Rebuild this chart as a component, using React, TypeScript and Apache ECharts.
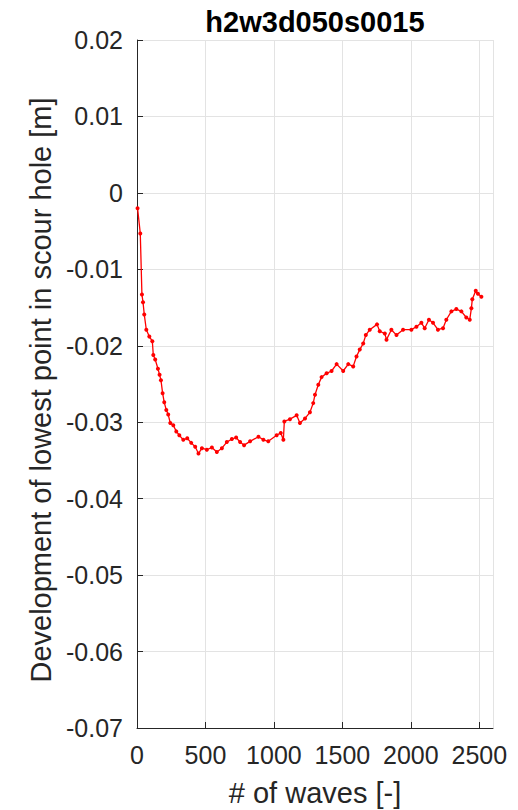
import React, { useEffect, useRef } from "react";
import * as echarts from "echarts";

const waves = [4, 24, 36, 44, 53, 68, 90, 112, 119, 133, 153, 165, 175, 187, 199, 214, 228, 243, 265, 287, 309, 338, 367, 396, 425, 449, 474, 510, 547, 583, 620, 656, 693, 724, 753, 782, 826, 887, 923, 959, 1020, 1050, 1069, 1076, 1117, 1166, 1190, 1227, 1263, 1287, 1300, 1324, 1348, 1385, 1421, 1458, 1506, 1543, 1579, 1603, 1627, 1652, 1671, 1700, 1753, 1773, 1810, 1822, 1858, 1895, 1943, 2004, 2041, 2077, 2101, 2132, 2162, 2198, 2235, 2259, 2296, 2332, 2369, 2405, 2430, 2442, 2449, 2474, 2490, 2515];
const depth = [-0.002, -0.0053, -0.0133, -0.0143, -0.0159, -0.0179, -0.0188, -0.0194, -0.0212, -0.0218, -0.023, -0.0238, -0.0245, -0.0262, -0.0274, -0.0284, -0.029, -0.0301, -0.0304, -0.0312, -0.0317, -0.0323, -0.0321, -0.0327, -0.0332, -0.0341, -0.0334, -0.0336, -0.0333, -0.0339, -0.0334, -0.0326, -0.0322, -0.032, -0.0326, -0.033, -0.0325, -0.0319, -0.0323, -0.0325, -0.0317, -0.0314, -0.0323, -0.0299, -0.0296, -0.0291, -0.0301, -0.0295, -0.0287, -0.0275, -0.0264, -0.0251, -0.0241, -0.0236, -0.0233, -0.0224, -0.0233, -0.0224, -0.0227, -0.0214, -0.0205, -0.0197, -0.0186, -0.0179, -0.0172, -0.0181, -0.0184, -0.0192, -0.0179, -0.0186, -0.0179, -0.0179, -0.0175, -0.017, -0.0177, -0.0166, -0.017, -0.0179, -0.0177, -0.0166, -0.0155, -0.0152, -0.0155, -0.0163, -0.0166, -0.0151, -0.0139, -0.0128, -0.0132, -0.0136];

const titleText = "h2w3d050s0015";
const xLabel = "# of waves [-]";
const yLabel = "Development of lowest point in scour hole [m]";

const FONT = "'Liberation Sans', Arial, Helvetica, sans-serif";

export default function App() {
  const ref = useRef<HTMLDivElement>(null);
  useEffect(() => {
    document.body.style.margin = "0";
    const chart = echarts.init(ref.current!, null, { renderer: "svg" });
    const axisColor = "#262626";
    chart.setOption({
      animation: false,
      backgroundColor: "#ffffff",
      grid: { left: 137, right: 25, top: 40, bottom: 82, containLabel: false },
      xAxis: {
        type: "value",
        min: 0,
        max: 2600,
        interval: 500,
        axisLine: { show: true, onZero: false, lineStyle: { color: axisColor, width: 1 } },
        axisTick: { show: true, inside: true, length: 6, lineStyle: { color: axisColor } },
        axisLabel: {
          color: "#262626",
          fontSize: 25,
          fontFamily: FONT,
          margin: 14,
          formatter: (v: number) => String(v),
        },
        splitLine: { show: true, lineStyle: { color: "#e3e3e3", width: 1 } },
      },
      yAxis: {
        type: "value",
        min: -0.07,
        max: 0.02,
        interval: 0.01,
        axisLine: { show: true, onZero: false, lineStyle: { color: axisColor, width: 1 } },
        axisTick: { show: true, inside: true, length: 6, lineStyle: { color: axisColor } },
        axisLabel: {
          color: "#262626",
          fontSize: 25,
          fontFamily: FONT,
          margin: 14,
          formatter: (v: number) => String(Math.round(v * 100) / 100),
        },
        splitLine: { show: true, lineStyle: { color: "#e3e3e3", width: 1 } },
      },
      graphic: [
        {
          type: "text",
          x: 315,
          y: 22,
          style: {
            text: titleText,
            font: `bold 29px ${FONT}`,
            fill: "#000000",
            align: "center",
            verticalAlign: "middle",
          },
        },
        {
          type: "text",
          x: 315,
          y: 793,
          style: {
            text: xLabel,
            font: `29px ${FONT}`,
            fill: "#262626",
            align: "center",
            verticalAlign: "middle",
          },
        },
        {
          type: "text",
          x: 41,
          y: 390,
          rotation: Math.PI / 2,
          style: {
            text: yLabel,
            font: `29px ${FONT}`,
            fill: "#262626",
            align: "center",
            verticalAlign: "middle",
          },
        },
      ],
      series: [
        {
          type: "line",
          data: waves.map((w, i) => [w, depth[i]]),
          lineStyle: { color: "#ff0000", width: 1.3 },
          itemStyle: { color: "#ff0000" },
          symbol: "circle",
          symbolSize: 4,
          showSymbol: true,
        },
      ],
    });
    return () => chart.dispose();
  }, []);
  return <div ref={ref} style={{ width: 518, height: 810 }} />;
}
